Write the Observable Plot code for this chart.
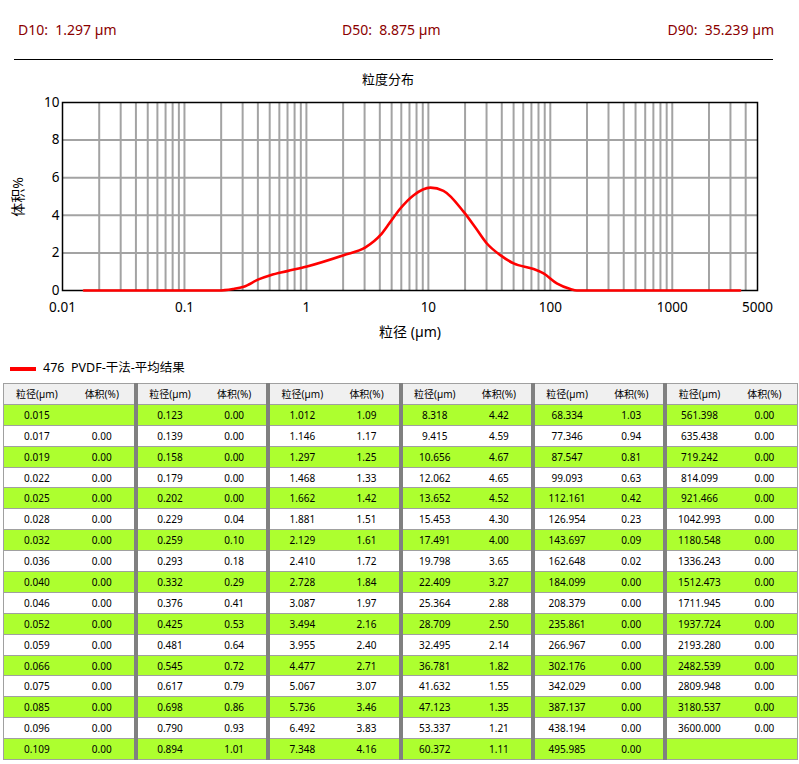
<!DOCTYPE html>
<html>
<head>
<meta charset="utf-8">
<script src="https://cdn.jsdelivr.net/npm/d3@7"></script>
<script src="https://cdn.jsdelivr.net/npm/@observablehq/plot@0.6"></script>
<style>
  html, body { margin: 0; padding: 0; background: #fff; }
  body { width: 799px; height: 764px; position: relative; overflow: hidden;
         font-family: "Noto Sans", "Noto Sans CJK SC", sans-serif; color: #000; }
  .abs { position: absolute; white-space: pre; line-height: 1; }
  .dval { color: #8b0000; font-size: 14px; top: 23px; }
  #hr { position: absolute; left: 14px; top: 59px; width: 759px; height: 0; border-top: 1.5px solid #000; }
  #chart { position: absolute; left: 0; top: 90px; }
  #tbl { position: absolute; left: 3px; top: 383px; border-collapse: collapse; table-layout: fixed; width: 794px; }
  #tbl td { border-top: 1px solid #a0a0a0; border-bottom: 1px solid #a0a0a0; border-left: none; border-right: none;
            height: 19.9px; padding: 0; text-align: center; font-size: 10px;
            font-family: "Noto Sans", "Noto Sans CJK SC", sans-serif; overflow: hidden; white-space: nowrap; }
  #tbl tr.head td { background: #f0f0f0; }
  #tbl tr.g td { background: #adff2f; }
  #tbl td.gs { border-left: 4px solid #808080; }
  #tbl td.first { border-left: 1px solid #a0a0a0; }
  #tbl td.last { border-right: 1px solid #a0a0a0; }
</style>
</head>
<body>
<div class="abs dval" style="left:18px">D10:  1.297 µm</div>
<div class="abs dval" style="left:342px">D50:  8.875 µm</div>
<div class="abs dval" style="right:25px">D90:  35.239 µm</div>
<div id="hr"></div>
<div class="abs" style="left:388px; top:73px; font-size:13px; transform:translateX(-50%)">粒度分布</div>
<div id="chart"></div>
<div class="abs" style="left:410px; top:325px; font-size:14px; transform:translateX(-50%)">粒径 (µm)</div>
<div class="abs" style="left:18px; top:197px; font-size:14px; transform:translate(-50%,-50%) rotate(-90deg)">体积%</div>
<div style="position:absolute; left:10px; top:367px; width:26px; height:4px; background:#ff0000"></div>
<div class="abs" style="left:43px; top:362px; font-size:12.5px">476  PVDF-干法-平均结果</div>
<table id="tbl"></table>
<script>
// Distribution curve (size µm, volume %)
const curveSize = [0.015, 0.05, 0.1, 0.19, 0.25, 0.306, 0.405, 0.507, 0.695, 1.01, 2.02, 3.05, 4.04, 4.88, 5.89, 7.58, 10.4, 13.3, 19.5, 24.3, 30.2, 38.9, 50, 73, 88, 113, 146, 165, 500, 3600];
const curveVol  = [0, 0, 0, 0, 0.08, 0.2, 0.59, 0.81, 1.03, 1.28, 1.88, 2.29, 2.94, 3.65, 4.36, 5.07, 5.47, 5.3, 4.18, 3.35, 2.5, 1.88, 1.44, 1.14, 0.91, 0.38, 0.08, 0, 0, 0];

// Table values
const tableSize = [
  "0.015","0.017","0.019","0.022","0.025","0.028","0.032","0.036","0.040","0.046","0.052","0.059","0.066","0.075","0.085","0.096","0.109",
  "0.123","0.139","0.158","0.179","0.202","0.229","0.259","0.293","0.332","0.376","0.425","0.481","0.545","0.617","0.698","0.790","0.894",
  "1.012","1.146","1.297","1.468","1.662","1.881","2.129","2.410","2.728","3.087","3.494","3.955","4.477","5.067","5.736","6.492","7.348",
  "8.318","9.415","10.656","12.062","13.652","15.453","17.491","19.798","22.409","25.364","28.709","32.495","36.781","41.632","47.123","53.337","60.372",
  "68.334","77.346","87.547","99.093","112.161","126.954","143.697","162.648","184.099","208.379","235.861","266.967","302.176","342.029","387.137","438.194","495.985",
  "561.398","635.438","719.242","814.099","921.466","1042.993","1180.548","1336.243","1512.473","1711.945","1937.724","2193.280","2482.539","2809.948","3180.537","3600.000",""
];
const tableVol = [
  "","0.00","0.00","0.00","0.00","0.00","0.00","0.00","0.00","0.00","0.00","0.00","0.00","0.00","0.00","0.00","0.00",
  "0.00","0.00","0.00","0.00","0.00","0.04","0.10","0.18","0.29","0.41","0.53","0.64","0.72","0.79","0.86","0.93","1.01",
  "1.09","1.17","1.25","1.33","1.42","1.51","1.61","1.72","1.84","1.97","2.16","2.40","2.71","3.07","3.46","3.83","4.16",
  "4.42","4.59","4.67","4.65","4.52","4.30","4.00","3.65","3.27","2.88","2.50","2.14","1.82","1.55","1.35","1.21","1.11",
  "1.03","0.94","0.81","0.63","0.42","0.23","0.09","0.02","0.00","0.00","0.00","0.00","0.00","0.00","0.00","0.00","0.00",
  "0.00","0.00","0.00","0.00","0.00","0.00","0.00","0.00","0.00","0.00","0.00","0.00","0.00","0.00","0.00","0.00",""
];
const xTicks = [0.01, 0.1, 1, 10, 100, 1000, 5000];
const xTickLabels = ["0.01", "0.1", "1", "10", "100", "1000", "5000"];
const yTicks = [0, 2, 4, 6, 8, 10];
const yGrid = [2, 4, 6, 8];
const decades = [0.01, 0.1, 1, 10, 100, 1000];
const multipliers = [1, 2, 3, 4, 5, 6, 7, 8, 9];

const xGrid = [];
for (const d of decades) for (const m of multipliers) {
  const v = +(m * d).toPrecision(6);
  if (v > 0.01 && v < 5000) xGrid.push(v);
}
const curve = curveSize.map((s, i) => ({size: s, vol: curveVol[i]}));
const xLabels = xTicks.map((t, i) => ({t, label: xTickLabels[i]}));

const chart = Plot.plot({
  width: 799, height: 255,
  marginTop: 12, marginBottom: 55, marginLeft: 62, marginRight: 42,
  style: {fontFamily: "'Noto Sans', 'Noto Sans CJK SC', sans-serif", fontSize: "13.5px", color: "#000", background: "transparent"},
  x: {type: "log", domain: [0.01, 5000], axis: null, label: null},
  y: {domain: [0, 10], ticks: yTicks, tickSize: 0, tickPadding: 3, label: null},
  marks: [
    Plot.ruleX(xGrid, {stroke: "#a3a3a3", strokeWidth: 2}),
    Plot.ruleY(yGrid, {stroke: "#a3a3a3", strokeWidth: 2}),
    Plot.frame({stroke: "#000", strokeWidth: 1.5}),
    Plot.line(curve, {x: "size", y: "vol", stroke: "#ff0000", strokeWidth: 2.6, curve: "monotone-x"}),
    Plot.text(xLabels, {x: "t", text: "label", frameAnchor: "bottom", dy: 21, fontSize: 13.5, fill: "#000"})
  ]
});
document.getElementById("chart").appendChild(chart);

// Build table
const rows = 17, groups = 6;
const tbl = document.getElementById("tbl");
const cls = (g, c) => (c === 0 ? (g ? "gs" : "first") : (g === groups - 1 ? "last" : ""));
let html = '<colgroup>' + '<col style="width:66.2px">'.repeat(12) + '</colgroup>';
html += '<tr class="head">';
for (let g = 0; g < groups; g++) html += `<td class="${cls(g,0)}">粒径(µm)</td><td class="${cls(g,1)}">体积(%)</td>`;
html += '</tr>';
for (let r = 0; r < rows; r++) {
  html += `<tr class="${r % 2 === 0 ? 'g' : 'w'}">`;
  for (let g = 0; g < groups; g++) {
    const i = g * rows + r;
    html += `<td class="${cls(g,0)}">${tableSize[i] ?? ''}</td><td class="${cls(g,1)}">${tableVol[i] ?? ''}</td>`;
  }
  html += '</tr>';
}
tbl.innerHTML = html;
</script>
</body>
</html>
